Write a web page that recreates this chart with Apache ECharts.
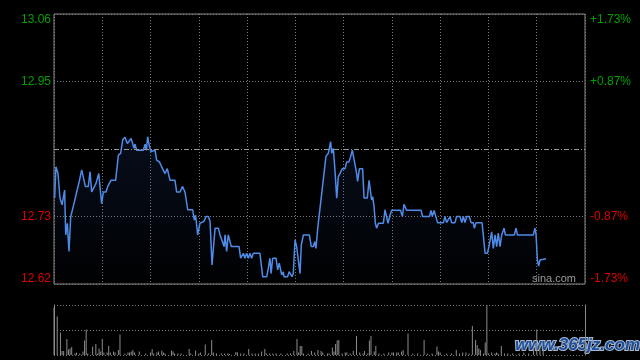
<!DOCTYPE html>
<html>
<head>
<meta charset="utf-8">
<script src="https://cdn.jsdelivr.net/npm/echarts@6/dist/echarts.min.js"></script>
<style>
html,body{margin:0;padding:0;background:#000;}
#c{width:640px;height:360px;}
</style>
</head>
<body>
<div id="c"></div>
<script>
// ---- data (minutes since open, 330-minute session) ----
const AXIS_MIN = 12.62;
const AXIS_MAX = 13.06;
const PREV_CLOSE = 12.84;
const leftTickLabels = ['12.62', '12.73', '', '12.95', '13.06'];
const rightTickLabels = ['-1.73%', '-0.87%', '', '+0.87%', '+1.73%'];

const priceTime = [0.4,1.2,2.5,3.7,5.0,6.6,7.3,8.3,9.3,10.4,11.4,12.4,14.1,15.7,17.2,18.2,19.5,21.3,22.4,23.4,24.4,26.1,27.8,28.6,29.6,30.7,32.3,33.4,34.4,35.4,38.3,40.0,41.4,42.7,44.1,45.6,46.8,47.9,48.9,49.7,50.3,51.4,55.5,56.6,57.4,58.2,59.3,60.3,62.8,63.8,65.5,66.9,68.0,69.0,70.4,72.1,75.2,76.2,78.3,79.8,81.4,83.1,86.2,87.2,88.0,89.3,90.7,93.2,94.5,95.9,97.0,98.2,99.0,100.1,102.1,103.2,104.2,105.7,106.3,107.3,108.3,109.0,110.2,115.0,116.0,117.7,118.7,119.7,120.8,121.8,122.8,123.9,128.0,129.7,132.2,133.2,134.2,134.9,135.9,138.0,139.0,140.0,141.5,142.5,142.9,145.2,146.1,147.1,147.9,148.7,149.8,150.8,152.9,153.7,155.0,158.7,159.9,161.2,162.0,162.8,163.9,164.9,166.4,167.4,169.0,170.5,171.9,172.6,173.6,174.6,175.7,176.7,177.7,179.2,180.9,181.9,183.3,184.4,185.4,186.4,188.1,188.7,189.8,191.8,192.7,194.7,195.8,197.4,198.1,198.9,199.7,200.5,201.6,204.7,205.7,206.8,207.6,208.8,209.9,215.4,216.5,217.5,218.3,219.2,228.1,229.1,233.3,234.3,235.1,236.2,237.4,238.4,242.0,243.0,244.0,246.1,247.1,249.2,250.2,252.3,253.4,254.4,255.4,256.5,258.1,259.2,260.6,261.2,262.3,266.0,266.8,267.9,269.3,270.3,271.0,272.0,273.0,274.1,275.1,276.1,277.2,278.2,278.8,279.7,280.5,286.1,287.1,288.0,297.9,298.9,299.6,300.4,301.2,302.0,303.1,305.8];
const priceValues = [12.760,12.811,12.800,12.760,12.749,12.773,12.700,12.719,12.673,12.730,12.730,12.751,12.770,12.787,12.806,12.808,12.779,12.779,12.803,12.770,12.770,12.784,12.800,12.798,12.751,12.770,12.770,12.779,12.781,12.789,12.789,12.830,12.833,12.855,12.859,12.849,12.849,12.857,12.849,12.841,12.848,12.838,12.838,12.848,12.838,12.860,12.844,12.836,12.838,12.822,12.819,12.811,12.808,12.800,12.808,12.789,12.789,12.770,12.770,12.779,12.770,12.741,12.741,12.724,12.732,12.700,12.719,12.722,12.730,12.730,12.722,12.651,12.651,12.711,12.711,12.700,12.700,12.681,12.700,12.673,12.700,12.700,12.681,12.681,12.662,12.670,12.662,12.670,12.662,12.670,12.662,12.670,12.670,12.632,12.632,12.646,12.662,12.637,12.662,12.662,12.643,12.654,12.635,12.640,12.632,12.632,12.640,12.640,12.632,12.637,12.692,12.681,12.637,12.684,12.700,12.700,12.681,12.681,12.689,12.678,12.711,12.711,12.768,12.770,12.828,12.833,12.852,12.833,12.841,12.806,12.760,12.795,12.800,12.808,12.808,12.819,12.819,12.828,12.838,12.838,12.800,12.787,12.808,12.808,12.760,12.760,12.789,12.757,12.762,12.746,12.719,12.711,12.719,12.719,12.741,12.741,12.719,12.732,12.740,12.740,12.730,12.750,12.750,12.740,12.740,12.730,12.730,12.740,12.730,12.740,12.740,12.720,12.720,12.730,12.720,12.730,12.720,12.720,12.730,12.730,12.720,12.730,12.720,12.730,12.730,12.720,12.720,12.711,12.720,12.720,12.700,12.670,12.670,12.681,12.681,12.705,12.678,12.700,12.681,12.703,12.681,12.700,12.703,12.711,12.700,12.700,12.711,12.700,12.700,12.711,12.700,12.659,12.649,12.659,12.661,12.661];

const volTime = [0,2,4,5,6,8,9,10,11,13,14,16,18,19,20,21,24,26,27,28,29,30,31,33,34,35,37,38,40,41,44,46,47,48,49,50,53,57,60,61,62,64,65,67,68,69,73,74,75,77,79,84,85,88,90,91,94,96,98,99,101,104,106,108,109,113,114,116,118,121,123,125,127,129,131,132,134,136,138,141,145,147,149,151,152,153,154,155,158,160,162,164,166,167,170,171,173,174,175,176,177,179,181,182,184,186,188,190,192,193,195,196,197,199,200,202,205,208,210,211,213,214,216,217,220,223,226,230,232,235,238,239,240,244,247,250,252,254,256,258,260,262,263,264,265,267,268,269,270,272,274,275,276,278,280,282,285,289,292,295,298,300,302,304];
const volValues = [95,77,45,8,8,32,11,13,16,3,5,3,7,29,51,3,17,22,3,13,7,32,5,5,18,5,7,5,10,41,3,5,5,7,10,5,7,3,5,12,3,5,7,9,5,3,9,7,3,3,3,12,3,9,3,5,21,3,30,5,3,3,3,3,2,6,5,3,3,12,3,3,3,7,12,3,3,3,3,3,3,3,8,32,5,18,18,3,3,8,5,10,8,5,3,3,15,7,22,29,30,3,5,5,3,8,38,5,3,8,3,29,38,7,18,3,3,5,5,5,5,5,7,10,43,3,3,30,3,3,17,7,5,3,3,10,3,5,5,3,58,30,20,13,10,3,25,100,3,5,3,5,3,18,3,3,3,3,5,3,16,51,20,12];

// ---- build ----
const span = Math.round((AXIS_MAX - AXIS_MIN) * 100);
const step = span / 4;
const lineData = priceTime.map((t, i) => [t, (priceValues[i] - AXIS_MIN) * 100]);
const volData = volTime.map((t, i) => [t, volValues[i]]);
const GREEN = '#00a000', RED = '#dd0000';
const FONT = 'Liberation Sans, Arial, sans-serif';
const GRIDC = '#7a7a7a';

function richKey(idx) {
  if (idx === 4) return 'top';
  if (idx === 3) return 'up';
  if (idx === 1) return 'dn';
  return 'bot';
}
const richStyles = {
  top: { color: GREEN, padding: [12, 0, 0, 0], fontSize: 12, fontFamily: FONT },
  up:  { color: GREEN, fontSize: 12, fontFamily: FONT },
  dn:  { color: RED, fontSize: 12, fontFamily: FONT },
  bot: { color: RED, padding: [0, 0, 11, 0], fontSize: 12, fontFamily: FONT }
};

const chart = echarts.init(document.getElementById('c'), null, { renderer: 'canvas' });
const dotted = { color: GRIDC, type: [1, 2], width: 1 };

chart.setOption({
  backgroundColor: '#000',
  animation: false,
  grid: [
    { left: 54, right: 55, top: 14, bottom: 76, show: true, borderColor: '#8a8a8a', borderWidth: 1, backgroundColor: 'transparent' },
    { left: 54, right: 55, top: 305, bottom: 5 }
  ],
  xAxis: [
    { type: 'value', gridIndex: 0, min: 0, max: 330, interval: 30,
      axisLine: { show: false }, axisTick: { show: false }, axisLabel: { show: false },
      splitLine: { show: true, lineStyle: dotted } },
    { type: 'value', gridIndex: 1, min: 0, max: 330, interval: 30,
      axisLine: { show: false }, axisTick: { show: false }, axisLabel: { show: false },
      splitLine: { show: false } }
  ],
  yAxis: [
    { type: 'value', gridIndex: 0, position: 'left', min: 0, max: span, interval: step,
      axisLine: { show: false }, axisTick: { show: false },
      axisLabel: { margin: 3, formatter: (v) => { const i = Math.round(v / step); return leftTickLabels[i] ? '{' + richKey(i) + '|' + leftTickLabels[i] + '}' : ''; }, rich: richStyles },
      splitLine: { show: true, lineStyle: { color: [GRIDC, GRIDC, 'rgba(0,0,0,0)', GRIDC, GRIDC], type: [1, 2], width: 1 } } },
    { type: 'value', gridIndex: 0, position: 'right', min: 0, max: span, interval: step,
      axisLine: { show: false }, axisTick: { show: false },
      axisLabel: { margin: 5, formatter: (v) => { const i = Math.round(v / step); return rightTickLabels[i] ? '{' + richKey(i) + '|' + rightTickLabels[i] + '}' : ''; }, rich: richStyles },
      splitLine: { show: false } },
    { type: 'value', gridIndex: 1, position: 'left', min: 0, max: 100, interval: 50,
      axisLine: { show: true, lineStyle: { color: '#8a8a8a' } }, axisTick: { show: false }, axisLabel: { show: false },
      splitLine: { show: true, lineStyle: dotted } },
    { type: 'value', gridIndex: 1, position: 'right', min: 0, max: 100, interval: 50,
      axisLine: { show: true, lineStyle: { color: '#8a8a8a' } }, axisTick: { show: false }, axisLabel: { show: false },
      splitLine: { show: false } }
  ],
  series: [
    { type: 'line', xAxisIndex: 0, yAxisIndex: 0, data: lineData, showSymbol: false, symbol: 'none',
      lineStyle: { color: '#4f8be8', width: 1.5 },
      areaStyle: { origin: 'start', color: new echarts.graphic.LinearGradient(0, 0, 0, 1, [
        { offset: 0, color: 'rgba(40,80,160,0.24)' }, { offset: 1, color: 'rgba(40,80,160,0.02)' }]) },
      markLine: { silent: true, symbol: 'none', label: { show: false },
        lineStyle: { color: '#9a9a9a', type: [5, 2, 1, 2], width: 1 },
        data: [{ yAxis: (PREV_CLOSE - AXIS_MIN) * 100 }] } },
    { type: 'bar', xAxisIndex: 1, yAxisIndex: 2, data: volData, barWidth: 1,
      itemStyle: { color: '#8c8c8c' } }
  ],
  graphic: [
    { type: 'text', left: 532, top: 273, style: { text: 'sina.com', fill: '#9a9a9a', font: '11px ' + FONT } },
    { type: 'text', left: 514, top: 336, style: { text: 'www.365jz.com', fill: '#1d4f9c', stroke: '#a9b8cc', lineWidth: 2, font: 'italic bold 17px ' + FONT } }
  ]
});
</script>
</body>
</html>
